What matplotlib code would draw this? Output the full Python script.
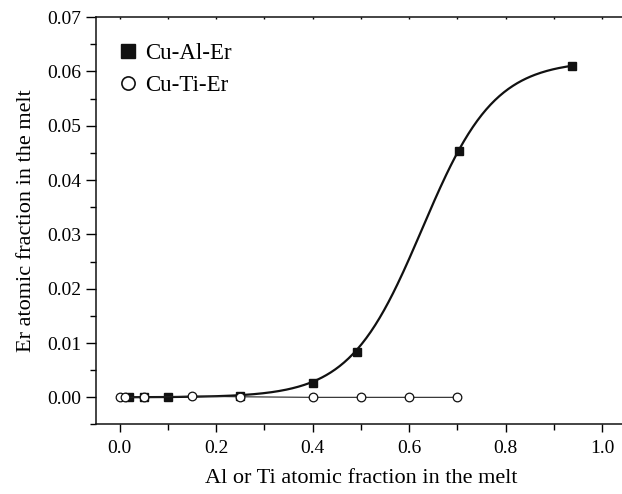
import matplotlib.pyplot as plt
import numpy as np
from matplotlib.lines import Line2D
from matplotlib.ticker import MultipleLocator, FormatStrFormatter

plt.rcParams['font.family'] = ['Liberation Serif', 'DejaVu Serif']

# Cu-Al-Er (filled squares)
al_x = [0.02, 0.05, 0.10, 0.25, 0.40, 0.492, 0.704, 0.938]
al_y = [0.0, 0.0, 0.0, 0.0002, 0.0027, 0.0084, 0.0454, 0.0610]

# Cu-Ti-Er (open circles)
ti_x = [0.0, 0.01, 0.05, 0.15, 0.25, 0.40, 0.50, 0.60, 0.70]
ti_y = [0.0, 0.0, 0.0, 0.0002, 0.0001, 0.0, 0.0, 0.0, 0.0]

# sigmoidal (Boltzmann) fit through the Cu-Al-Er points, parameters
fit_A1 = 0.0
fit_A2 = 0.062
fit_x0 = 0.627
fit_dx = 0.075

xf = np.linspace(al_x[0], al_x[-1], 300)
yf = fit_A2 + (fit_A1 - fit_A2) / (1 + np.exp((xf - fit_x0) / fit_dx))

fig = plt.figure(figsize=(6.22, 4.94), dpi=100)
ax = fig.add_axes([0.1539, 0.1407, 0.8526, 0.8247])

ax.plot(xf, yf, color='#111111', lw=1.6, zorder=2)
ax.plot(al_x, al_y, 's', color='#111111', ms=5.5, zorder=3)
ax.plot(ti_x, ti_y, '-o', color='#222222', lw=0.8, ms=6.2,
        mfc='white', mec='#111111', mew=0.9, zorder=4)

ax.set_xlim(-0.05, 1.05)
ax.set_ylim(-0.005, 0.07)

ax.xaxis.set_major_locator(MultipleLocator(0.2))
ax.xaxis.set_minor_locator(MultipleLocator(0.1))
ax.xaxis.set_major_formatter(FormatStrFormatter('%.1f'))
ax.yaxis.set_major_locator(MultipleLocator(0.01))
ax.yaxis.set_minor_locator(MultipleLocator(0.005))
ax.yaxis.set_major_formatter(FormatStrFormatter('%.2f'))

ax.tick_params(axis='x', which='major', direction='out', length=5.5, width=1,
               labelsize=14, pad=6, top=True)
ax.tick_params(axis='x', which='minor', direction='out', length=4, width=1, top=True)
ax.tick_params(axis='y', which='major', direction='out', length=7, width=1,
               labelsize=14, pad=3.5)
ax.tick_params(axis='y', which='minor', direction='out', length=4, width=1)
# tiny inward ticks on the top spine
for t in ax.xaxis.get_major_ticks() + ax.xaxis.get_minor_ticks():
    t.tick2line.set_marker(3)
    t.tick2line.set_markersize(1.5)

for s in ax.spines.values():
    s.set_linewidth(1.1)
    s.set_color('#111111')
ax.spines['right'].set_visible(False)

ax.set_xlabel('Al or Ti atomic fraction in the melt', fontsize=16, labelpad=8)
ax.set_ylabel('Er atomic fraction in the melt', fontsize=16, labelpad=8)

handles = [Line2D([], [], marker='s', ls='none', color='#111111', ms=9.5),
           Line2D([], [], marker='o', ls='none', mfc='white', mec='#111111',
                  mew=1.2, ms=9.5)]
ax.legend(handles, ['Cu-Al-Er', 'Cu-Ti-Er'], loc='upper left',
          bbox_to_anchor=(0.026, 0.96), frameon=False, fontsize=16.5,
          handlelength=0.8, handletextpad=0.35, labelspacing=0.5,
          borderaxespad=0)

fig.savefig('out.png', dpi=100)
